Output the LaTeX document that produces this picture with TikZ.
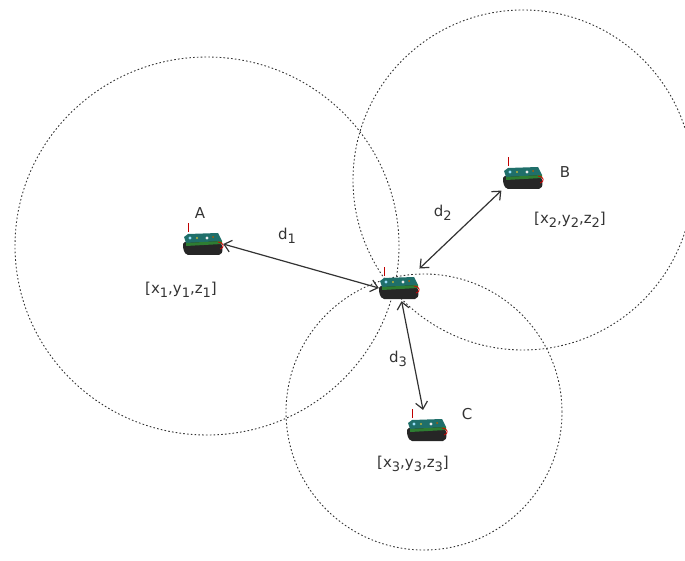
\documentclass[tikz,border=0pt]{standalone}
\usepackage{fontspec}
\setmainfont{DejaVu Sans}
\usepackage{tikz}
\usetikzlibrary{arrows.meta}
\definecolor{ink}{HTML}{333333}
\definecolor{board}{HTML}{1F6F6A}
\definecolor{boardedge}{HTML}{2E7D32}

\newcommand{\sub}[1]{\raisebox{-0.45ex}{\fontsize{13}{13}\selectfont #1}}
% sensor board on its battery pack, with the antenna sticking up
\newcommand{\mote}[2]{%
	\node[mote] (#1) at (#2) {};
	\begin{scope}[shift={(#1)}]
		\fill[black!85, rounded corners=2pt] (-20,-2) -- (17,-4) -- (20,5) -- (18,11) -- (-17,11) -- (-20,5) -- cycle;
		\fill[board] (-19,-7) -- (-15,-10) -- (15,-11) -- (19,-3) -- (-17,-1) -- cycle;
		\fill[boardedge] (-17,-1) -- (19,-3) -- (19,0) -- (-17,2) -- cycle;
		\fill[cyan!40] (-13,-6) circle[radius=1.6pt];
		\fill[yellow!70!black] (-6,-6) circle[radius=1.2pt];
		\fill[white!85!gray] (4,-6) circle[radius=1.6pt];
		\fill[orange!70!black] (10,-7) circle[radius=1pt];
		\draw[red!85!black, line width=0.8pt] (15,-2) .. controls (21,-2) and (22,4) .. (17,5);
		\draw[red!75!black, line width=1pt] (-15,-12) -- (-15,-21);
	\end{scope}}

\begin{document}
\begin{tikzpicture}[x=1pt, y=-1pt, font=\fontsize{15}{17}\selectfont, text=ink,
	reach/.style={draw=ink, line width=0.9pt, dash pattern=on 1.6pt off 2.2pt},
	mote/.style={minimum width=40pt, minimum height=22pt, inner sep=0pt},
	link/.style={{Straight Barb[length=7pt,width=12pt]}-{Straight Barb[length=7pt,width=12pt]}, draw=ink, line width=1.2pt}]
	\useasboundingbox (0,0) rectangle (685,561);
	\clip (0,0) rectangle (685,561);

	% radio ranges of the three anchors
	\draw[reach] (207,246) ellipse[x radius=192pt, y radius=189pt];
	\draw[reach] (523,180) circle[radius=170pt];
	\draw[reach] (424,412) circle[radius=138pt];

	\mote{a}{203,244}
	\mote{m}{399,288}
	\mote{b}{523,178}
	\mote{c}{427,430}

	\node at (200,213) (namea) {A};
	\node at (565,172) (nameb) {B};
	\node at (467,414) (namec) {C};
	\node at (181,290) (posa) {[x\sub1,y\sub1,z\sub1]};
	\node at (570,220) (posb) {[x\sub2,y\sub2,z\sub2]};
	\node at (413,464) (posc) {[x\sub3,y\sub3,z\sub3]};

	\draw[link] (a.east) -- node[midway, yshift=30pt, xshift=-14pt]{d\sub1} (m.west);
	\draw[link, shorten <=12pt, shorten >=2pt] (m) -- node[midway, yshift=20pt, xshift=-14pt]{d\sub2} (b.south west);
	\draw[link, shorten <=2pt, shorten >=9pt] (m) -- node[midway, xshift=-15pt]{d\sub3} (c);
\end{tikzpicture}
\end{document}
